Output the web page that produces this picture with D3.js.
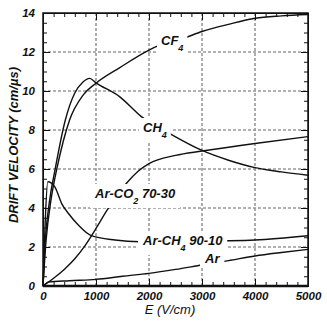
<!DOCTYPE html>
<html>
<head>
<meta charset="utf-8">
<script src="https://cdn.jsdelivr.net/npm/d3@7"></script>
<style>
  body { margin: 0; background: #fff; }
  svg { display: block; }
  .tick text { font-family: "Liberation Sans Narrow", "Arial Narrow", sans-serif; font-weight: bold; font-style: italic; font-size: 11.5px; fill: #111; }
  .lbl { font-family: "Liberation Sans Narrow", "Arial Narrow", sans-serif; font-weight: bold; font-style: italic; font-size: 13px; fill: #111; }
</style>
</head>
<body>
<svg width="327" height="324"></svg>
<script>
var svg = d3.select("svg");

// drift velocity (cm/us) vs E (V/cm)
var cf4    = [[0,0],[60,2.4],[150,4.4],[260,6.0],[380,7.4],[500,8.5],[760,9.8],[1000,10.4],[1450,11.2],[2000,12.1],[2200,12.35],[2650,12.7],[3000,13.05],[3500,13.42],[4000,13.73],[4500,13.85],[5000,13.92]];
var ch4    = [[0,0],[45,2.4],[120,4.3],[230,6.0],[420,8.5],[600,9.9],[750,10.45],[880,10.65],[1000,10.42],[1450,9.7],[1850,8.7],[2400,7.8],[3000,6.95],[3500,6.45],[4000,6.07],[4500,5.85],[5000,5.68]];
var arco2  = [[0,0],[200,0.4],[400,0.85],[600,1.4],[800,2.1],[1000,2.95],[1200,3.85],[1400,4.65],[1600,5.35],[1800,5.9],[2000,6.28],[2500,6.7],[3000,6.92],[4000,7.31],[5000,7.66]];
var arch4  = [[0,0],[40,3.2],[90,5.35],[226,5.07],[350,4.24],[477,3.73],[666,3.13],[900,2.6],[1360,2.36],[1830,2.27],[2500,2.26],[3300,2.31],[4000,2.36],[5000,2.58]];
var ar     = [[0,0],[100,0.2],[500,0.27],[1000,0.34],[1500,0.5],[2000,0.65],[2500,0.85],[3000,1.08],[3500,1.3],[4000,1.54],[4500,1.72],[5000,1.88]];

var xTicks = [0, 1000, 2000, 3000, 4000, 5000];
var yTicks = [0, 2, 4, 6, 8, 10, 12, 14];
var xGrid = [1000, 2000, 3000, 4000];
var yGrid = [2, 4, 6, 8, 10, 12];

var margin = {left: 43, top: 13, right: 19, bottom: 38};
var width = 327 - margin.left - margin.right,
    height = 324 - margin.top - margin.bottom;

var x = d3.scaleLinear().domain([0, 5000]).range([0, width]);
var y = d3.scaleLinear().domain([0, 14]).range([height, 0]);

var g = svg.append("g").attr("transform", "translate(" + margin.left + "," + margin.top + ")");

// grid
var grid = g.append("g");
grid.selectAll(".gx")
  .data(xGrid)
  .enter().append("line")
    .attr("class", "gx")
    .attr("x1", function(d) { return x(d); })
    .attr("x2", function(d) { return x(d); })
    .attr("y1", 0).attr("y2", height);
grid.selectAll(".gy")
  .data(yGrid)
  .enter().append("line")
    .attr("class", "gy")
    .attr("y1", function(d) { return y(d); })
    .attr("y2", function(d) { return y(d); })
    .attr("x1", 0).attr("x2", width);
grid.selectAll("line")
    .attr("stroke", "#999")
    .attr("stroke-width", 1.6)
    .attr("stroke-dasharray", "3,2");

var line = d3.line()
    .x(function(d) { return x(d[0]); })
    .y(function(d) { return y(d[1]); })
    .curve(d3.curveMonotoneX);

[cf4, ch4, arco2, arch4, ar].forEach(function(s) {
  g.append("path")
      .datum(s)
      .attr("fill", "none")
      .attr("stroke", "#111")
      .attr("stroke-width", 1.4)
      .attr("d", line);
});

// curve labels: [main, subscript, rest, x, y]
var labels = [
  ["CF", "4", "", 118, 32],
  ["CH", "4", "", 100, 119],
  ["Ar-CO", "2", " 70-30", 52, 185],
  ["Ar-CH", "4", " 90-10", 100, 232],
  ["Ar", "", "", 162, 250]
];

labels.forEach(function(l) {
  var lg = g.append("g");
  var box = lg.append("rect").attr("fill", "#fff");
  var t = lg.append("text").attr("class", "lbl").attr("x", l[3]).attr("y", l[4]);
  t.append("tspan").text(l[0]);
  if (l[1]) t.append("tspan").attr("dy", 6).attr("font-size", "9px").text(l[1]);
  if (l[2]) t.append("tspan").attr("dy", -6).text(l[2]);
  var b = t.node().getBBox();
  box.attr("x", b.x - 4).attr("y", b.y - 2).attr("width", b.width + 8).attr("height", b.height + 4);
});

// axes, ticks pointing inward
function minor(step, max) { return d3.range(0, max + step / 2, step); }

var axB = g.append("g").attr("transform", "translate(0," + height + ")");
axB.call(d3.axisBottom(x).tickValues(minor(200, 5000)).tickSize(-4).tickFormat(""));
axB.append("g").call(d3.axisBottom(x).tickValues(xTicks).tickSizeInner(-7).tickSizeOuter(0).tickPadding(6).tickFormat(d3.format("d")));

var axL = g.append("g");
axL.call(d3.axisLeft(y).tickValues(minor(0.5, 14)).tickSize(-4).tickFormat(""));
axL.append("g").call(d3.axisLeft(y).tickValues(yTicks).tickSizeInner(-7).tickSizeOuter(0).tickPadding(8).tickFormat(d3.format("d")));

var axT = g.append("g");
axT.call(d3.axisTop(x).tickValues(minor(200, 5000)).tickSize(-4).tickFormat(""));
axT.append("g").call(d3.axisTop(x).tickValues(xTicks).tickSize(-7).tickFormat(""));

var axR = g.append("g").attr("transform", "translate(" + width + ",0)");
axR.call(d3.axisRight(y).tickValues(minor(0.5, 14)).tickSize(-4).tickFormat(""));
axR.append("g").call(d3.axisRight(y).tickValues(yTicks).tickSize(-7).tickFormat(""));

[axB, axL, axT, axR].forEach(function(a) {
  a.selectAll(".domain").attr("stroke", "#111").attr("fill", "none");
  a.selectAll(".tick line").attr("stroke", "#111");
});

g.append("rect")
    .attr("width", width).attr("height", height)
    .attr("fill", "none").attr("stroke", "#111").attr("stroke-width", 1.5);
g.append("line")
    .attr("x1", 0).attr("x2", width).attr("y1", height).attr("y2", height)
    .attr("stroke", "#111").attr("stroke-width", 2.5);

// axis titles
svg.append("text")
    .attr("transform", "translate(18,145) rotate(-90)")
    .attr("text-anchor", "middle")
    .attr("font-family", "Liberation Sans, Arial, sans-serif")
    .attr("font-weight", "bold").attr("font-style", "italic")
    .attr("font-size", "13px").attr("fill", "#111")
    .text("DRIFT VELOCITY (cm/\u00b5s)");

svg.append("text")
    .attr("x", 170).attr("y", 314)
    .attr("text-anchor", "middle")
    .attr("font-family", "Liberation Sans Narrow, Arial Narrow, sans-serif")
    .attr("font-style", "italic")
    .attr("font-size", "13px").attr("fill", "#111")
    .text("E (V/cm)");
</script>
</body>
</html>
